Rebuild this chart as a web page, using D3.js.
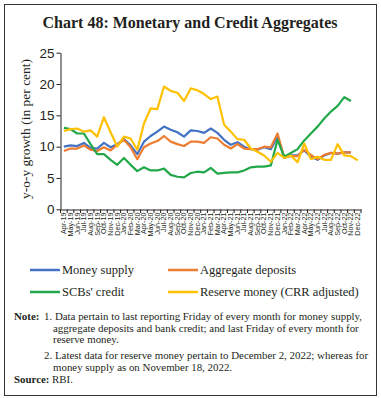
<!DOCTYPE html>
<html><head><meta charset="utf-8">
<script src="https://cdn.jsdelivr.net/npm/d3@7"></script>
<style>
body{margin:0;background:#fff;}
svg text{fill:#231f20;}
</style></head>
<body><svg id="c" width="381" height="398"></svg>
<script>
const months = ["Apr-19","May-19","Jun-19","Jul-19","Aug-19","Sep-19","Oct-19","Nov-19","Dec-19",
"Jan-20","Feb-20","Mar-20","Apr-20","May-20","Jun-20","Jul-20","Aug-20","Sep-20","Oct-20","Nov-20","Dec-20",
"Jan-21","Feb-21","Mar-21","Apr-21","May-21","Jun-21","Jul-21","Aug-21","Sep-21","Oct-21","Nov-21","Dec-21",
"Jan-22","Feb-22","Mar-22","Apr-22","May-22","Jun-22","Jul-22","Aug-22","Sep-22","Oct-22","Nov-22","Dec-22"];
const moneySupply = [10.0,10.2,10.1,10.6,9.8,9.7,10.6,9.9,10.4,11.2,10.2,8.8,10.8,11.7,12.4,13.2,12.7,12.3,11.6,12.6,12.5,12.2,12.9,12.2,11.1,10.3,10.7,10.0,9.6,9.5,9.9,9.6,11.6,8.2,8.6,8.6,9.4,8.4,7.9,8.6,9.0,8.9,9.1,9.1];
const aggregateDeposits = [9.3,9.7,9.7,10.2,9.5,9.3,9.9,9.4,10.3,11.1,9.9,8.0,9.9,10.5,10.9,11.7,10.8,10.4,10.1,10.8,10.8,10.6,11.5,11.3,10.3,9.7,10.4,9.7,9.6,9.6,10.0,9.9,12.1,8.3,8.5,8.5,9.5,8.7,8.0,8.7,9.0,8.9,9.1,9.1];
const scbCredit = [13.0,12.8,12.1,12.1,10.4,8.8,8.8,7.9,7.1,8.2,7.1,6.1,6.7,6.2,6.2,6.5,5.5,5.2,5.1,5.8,6.0,5.9,6.6,5.7,5.8,5.9,5.9,6.2,6.7,6.8,6.8,7.0,11.1,8.4,9.0,9.6,11.0,12.1,13.2,14.5,15.6,16.5,17.9,17.3];
const reserveMoney = [12.5,12.8,12.9,12.4,12.6,11.6,14.7,12.3,10.0,11.6,11.3,9.5,13.7,16.1,16.0,19.6,18.9,18.6,17.3,19.3,19.0,18.4,17.6,18.0,13.5,12.4,11.2,11.1,9.7,9.2,8.6,7.6,9.0,8.2,8.6,7.5,10.5,8.0,8.4,7.9,7.9,10.4,8.6,8.5,7.8];
const yTicks = [0,5,10,15,20,25];
const seriesNames = ["Money supply","Aggregate deposits","SCBs' credit","Reserve money (CRR adjusted)"];
const seriesColors = ["#4472c4","#ed7d31","#22a84a","#ffc000"];
const seriesData = [moneySupply, aggregateDeposits, scbCredit, reserveMoney];
const notes = [
 {t:"1. Data pertain to last reporting Friday of every month for money supply,", x:44},
 {t:"aggregate deposits and bank credit; and last Friday of every month for", x:53},
 {t:"reserve money.", x:53},
 {t:"2. Latest data for reserve money pertain to December 2, 2022; whereas for", x:44},
 {t:"money supply as on November 18, 2022.", x:53}
];

const svg = d3.select("#c");
const serif = "'Liberation Serif','DejaVu Serif',serif";
const sans = "'Liberation Sans',Arial,sans-serif";

svg.append("rect").attr("x",4.5).attr("y",4.5).attr("width",372).attr("height",391)
  .attr("fill","none").attr("stroke","#333").attr("stroke-width",1);

svg.append("text").attr("x",190).attr("y",28).attr("text-anchor","middle")
  .style("font-family",serif).style("font-weight","bold").style("font-size","16px")
  .text("Chart 48: Monetary and Credit Aggregates");

const x = d3.scaleBand().domain(months).range([60.5,361]);
const y = d3.scaleLinear().domain([0,25]).range([209.3,52.7]);

// y axis
const ya = svg.append("g").attr("transform","translate(60.5,0)")
  .call(d3.axisLeft(y).tickValues(yTicks).tickSize(4).tickSizeOuter(0));
ya.select(".domain").attr("stroke","#231f20");
ya.selectAll(".tick line").attr("stroke","#231f20");
ya.selectAll("text").style("font-family",sans).style("font-size","13.5px").attr("x",-6);

// x axis
const xa = svg.append("g").attr("transform","translate(0,209.5)")
  .call(d3.axisBottom(x).tickSize(0).tickSizeOuter(0));
xa.select(".domain").attr("stroke","#231f20");
xa.selectAll("text").style("font-family",sans).style("font-size","7.2px")
  .attr("transform","rotate(-90)").attr("text-anchor","end")
  .attr("x",-3).attr("y",0).attr("dy","0.32em");
// tick marks at band edges
const edges = months.map(m=>x(m)).concat([x(months[months.length-1])+x.bandwidth()]);
svg.append("g").selectAll("line").data(edges).join("line")
  .attr("x1",d=>d).attr("x2",d=>d).attr("y1",209.5).attr("y2",213)
  .attr("stroke","#231f20").attr("stroke-width",1);

svg.append("text").attr("transform","translate(30,129) rotate(-90)").attr("text-anchor","middle")
  .style("font-family",serif).style("font-size","13.5px").text("y-o-y growth (in per cent)");

const line = d3.line().x((d,i)=>x(months[i])+x.bandwidth()/2).y(d=>y(d));
seriesData.forEach((s,k)=>{
  svg.append("path").datum(s).attr("d",line).attr("fill","none")
    .attr("stroke",seriesColors[k]).attr("stroke-width",2.2).attr("stroke-linejoin","round");
});

// legend
const legPos = [[30,270],[168,270],[30,292],[168,292]];
seriesNames.forEach((n,k)=>{
  const [lx,ly] = legPos[k];
  svg.append("line").attr("x1",lx).attr("x2",lx+30).attr("y1",ly).attr("y2",ly)
    .attr("stroke",seriesColors[k]).attr("stroke-width",2.5);
  svg.append("text").attr("x",lx+32).attr("y",ly).attr("dy","0.35em")
    .style("font-family",serif).style("font-size","12.5px").text(n);
});

// notes
svg.append("text").attr("x",14).attr("y",320).style("font-family",serif)
  .style("font-size","10.9px").style("font-weight","bold").text("Note:");
notes.forEach((n,i)=>{
  const yy = [320,331.5,343,359,370.5][i];
  svg.append("text").attr("x",n.x).attr("y",yy).style("font-family",serif)
    .style("font-size","10.9px").text(n.t);
});
svg.append("text").attr("x",14).attr("y",382.5).style("font-family",serif)
  .style("font-size","10.9px").style("font-weight","bold").text("Source:");
svg.append("text").attr("x",52).attr("y",382.5).style("font-family",serif)
  .style("font-size","10.9px").text("RBI.");
</script></body></html>
